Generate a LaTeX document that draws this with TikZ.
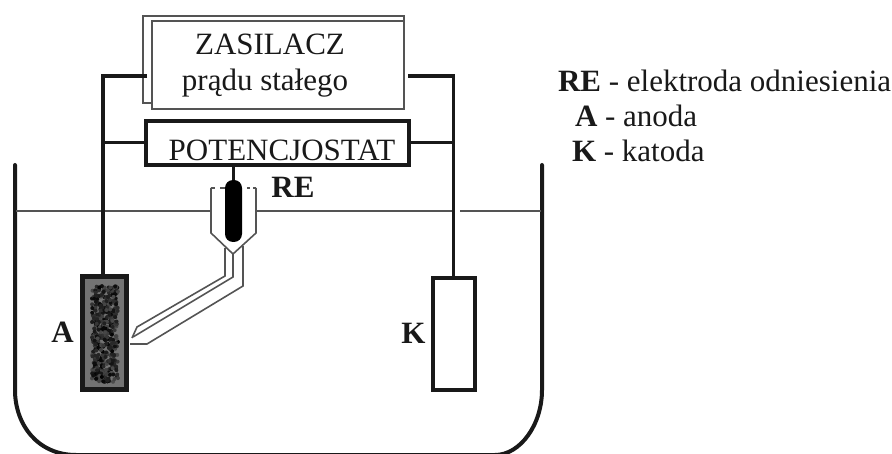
\documentclass[tikz,border=0pt]{standalone}
\usepackage{fontspec}
\setmainfont{Liberation Serif}
\definecolor{ink}{gray}{0.1}
\definecolor{thin}{gray}{0.33}
\tikzset{
  every node/.style={outer sep=0pt},
  lab/.style={font=\fontsize{31}{31}\selectfont, text=ink, inner sep=0pt, anchor=base},
  blab/.style={font=\fontsize{31}{31}\selectfont\bfseries, text=ink, inner sep=0pt, anchor=base},
  wire/.style={draw=ink, line width=3.6pt},
  wall/.style={draw=ink, line width=4pt, line cap=round},
  fine/.style={draw=thin, line width=1.6pt},
  tube/.style={draw=thin, line width=1.6pt, line join=miter},
}
\begin{document}
\begin{tikzpicture}[x=1pt,y=-1pt]
\useasboundingbox (0,0) rectangle (892,454);
% power supply
\draw[fine] (152,103) -- (143,103) -- (143,16) -- (404,16) -- (404,21);
\node[fine, rectangle, minimum width=252pt, minimum height=88pt, inner sep=0pt, anchor=north west] (zas) at (152,21) {};
\node[lab] (t1) at (270,55) {ZASILACZ};
\node[lab] (t2) at (265,91) {prądu stałego};
% potentiostat
\node[draw=ink, line width=4pt, rectangle, minimum width=263pt, minimum height=44pt, inner sep=0pt, anchor=north west] (pot) at (146,121) {};
\node[lab] (t3) at (282,161) {POTENCJOSTAT};
% vessel
\draw[wall] (15,165) -- (15,390) .. controls (15,425) and (38,455) .. (76,455) -- (495,455) .. controls (520,455) and (542,425) .. (542,390) -- (542,165);
% electrolyte level
\coordinate (wl0) at (16,211);
\coordinate (wl1) at (210,211);
\coordinate (wl2) at (257,211);
\coordinate (wl3) at (455,211);
\coordinate (wl4) at (460,211);
\coordinate (wl5) at (541,211);
\draw[fine] (wl0) -- (wl1);
\draw[fine] (wl2) -- (wl3) (wl4) -- (wl5);
% anode
\node[draw=ink, fill=black!55, line width=5pt, rectangle, minimum width=44pt, minimum height=113pt, inner sep=0pt, anchor=north west] (anode) at (82,277) {};
\pgfmathsetseed{7}
\foreach \i in {1,...,420}{
  \pgfmathsetmacro{\px}{92+rnd*26}
  \pgfmathsetmacro{\py}{286+rnd*96}
  \pgfmathsetmacro{\pg}{int(70+rnd*30)}
  \fill[black!\pg] (\px,\py) circle (2pt);
}
% cathode
\node[draw=ink, line width=4pt, rectangle, minimum width=42pt, minimum height=112pt, inner sep=0pt, anchor=north west] (cath) at (432.5,278) {};
% wires
\coordinate (zl) at (147,76);
\coordinate (zr) at (408,76);
\coordinate (al) at (103,277);
\draw[wire] (zl) -| (al);
\draw[wire] (zr) -| (cath.north);
\coordinate (pl) at (103,143);
\coordinate (pr) at (453.5,143);
\draw[wire,line width=3pt] (pot.west) -- (pl);
\draw[wire,line width=3pt] (pot.east) -- (pr);
% reference electrode
\coordinate (tubeTL) at (211,188);
\coordinate (tubeTR) at (256,188);
\coordinate (tip) at (233,254);
\draw[tube] (tubeTL) -- (211,233) -- (tip) -- (256,233) -- (tubeTR);
\draw[tube] (tubeTL) -- (215,188) (220,188) -- (225,188) (247,188) -- (250,188) (253,188) -- (tubeTR);
\node[fill=black, rounded corners=8pt, minimum width=17pt, minimum height=62pt, inner sep=0pt, anchor=north] (re) at (233.5,180) {};
\draw[wire] (pot.south -| re.north) -- (re.north);
% salt bridge
\coordinate (bridgeEnd) at (130,344);
\draw[tube] (225,248) -- (225,276) -- (137,327) -- (132,338);
\draw[tube] (tip) -- (233,277) -- (133,337);
\draw[tube] (243,246) -- (243,286) -- (147,344) -- (bridgeEnd);
% labels
\node[blab] (lre) at (293,198) {RE};
\node[blab] (la) at (62.5,343) {A};
\node[blab] (lk) at (413.5,344) {K};
% legend
\node[lab, anchor=base west] (k1) at (558,92) {\textbf{RE} - elektroda odniesienia};
\node[lab, anchor=base west] (k2) at (575,127) {\textbf{A} - anoda};
\node[lab, anchor=base west] (k3) at (572,162) {\textbf{K} - katoda};
\end{tikzpicture}
\end{document}
